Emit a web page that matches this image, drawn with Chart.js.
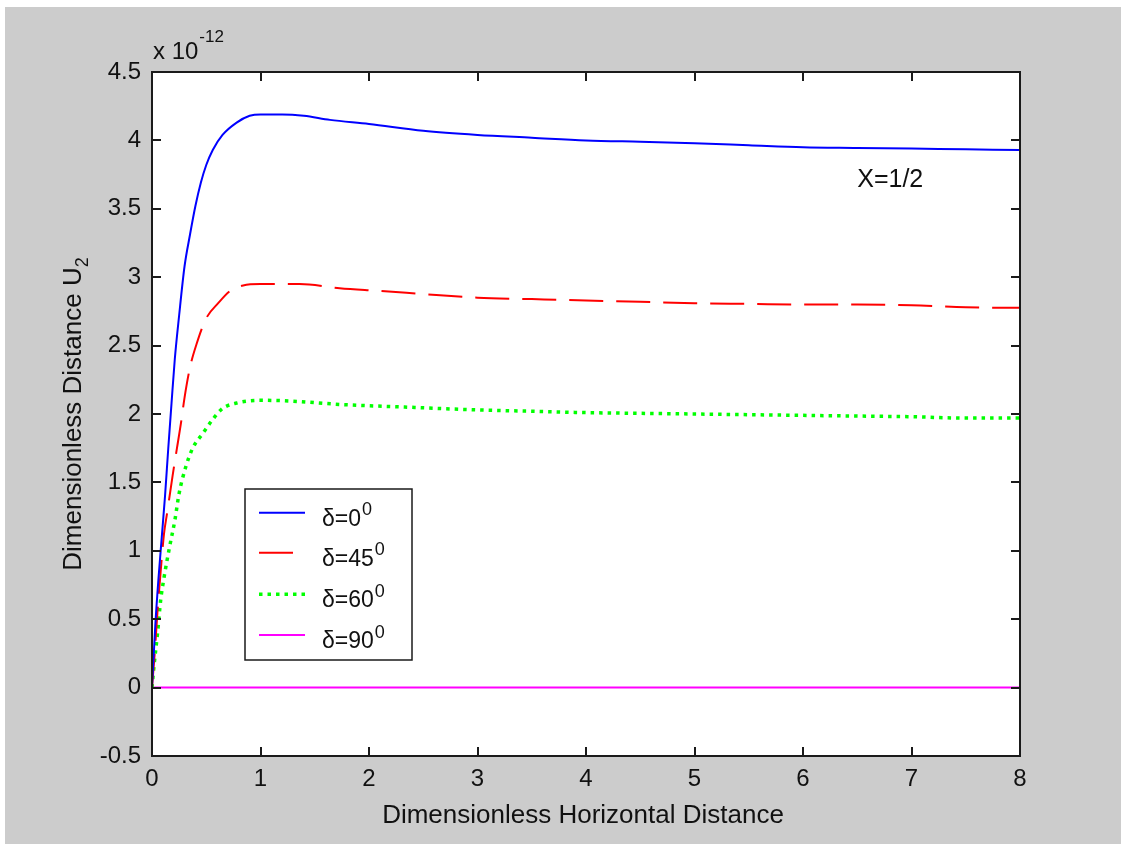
<!DOCTYPE html>
<html>
<head>
<meta charset="utf-8">
<script src="https://cdn.jsdelivr.net/npm/chart.js@4"></script>
<style>
html,body{margin:0;padding:0;background:#fff;}
canvas{display:block;}
</style>
</head>
<body>
<canvas id="c" width="1121" height="844"></canvas>
<script>
// ---- data (values in units of 1e-12) ----
const seriesLabels = ["δ=0", "δ=45", "δ=60", "δ=90"];
const blueX = [0, 0.03, 0.06, 0.09, 0.12, 0.15, 0.18, 0.21, 0.25, 0.30, 0.35, 0.40, 0.45, 0.50, 0.56, 0.65, 0.78, 0.90, 1.0, 1.2, 1.4, 1.64, 2.0, 2.5, 3.0, 3.5, 4.0, 4.5, 5.0, 5.5, 6.0, 6.5, 7.0, 7.5, 8.0];
const blueY = [0, 0.45, 0.80, 1.10, 1.40, 1.75, 2.08, 2.40, 2.72, 3.08, 3.31, 3.52, 3.69, 3.82, 3.93, 4.04, 4.13, 4.18, 4.19, 4.19, 4.18, 4.15, 4.12, 4.07, 4.04, 4.02, 4.00, 3.99, 3.98, 3.965, 3.95, 3.945, 3.94, 3.935, 3.93];
const redX = [0, 0.025, 0.05, 0.08, 0.11, 0.14, 0.19, 0.23, 0.27, 0.30, 0.35, 0.41, 0.50, 0.61, 0.72, 0.84, 1.0, 1.36, 1.73, 2.1, 2.62, 3.0, 3.5, 4.0, 4.5, 5.0, 5.5, 6.0, 6.5, 7.0, 7.5, 8.0];
const redY = [0, 0.25, 0.55, 0.85, 1.12, 1.28, 1.55, 1.75, 1.95, 2.12, 2.34, 2.51, 2.70, 2.81, 2.90, 2.94, 2.95, 2.95, 2.92, 2.90, 2.87, 2.85, 2.84, 2.83, 2.82, 2.81, 2.805, 2.80, 2.80, 2.795, 2.78, 2.776];
const greenX = [0, 0.02, 0.05, 0.08, 0.11, 0.16, 0.21, 0.25, 0.31, 0.375, 0.47, 0.56, 0.65, 0.78, 1.0, 1.27, 1.73, 2.35, 3.0, 3.5, 4.0, 4.5, 5.0, 5.5, 6.0, 6.5, 7.0, 7.5, 8.0];
const greenY = [0, 0.17, 0.39, 0.64, 0.80, 1.02, 1.22, 1.42, 1.61, 1.75, 1.86, 1.96, 2.04, 2.08, 2.10, 2.095, 2.07, 2.05, 2.03, 2.02, 2.01, 2.005, 2.00, 1.995, 1.99, 1.985, 1.98, 1.97, 1.97];
const magentaX = [0, 8];
const magentaY = [0, 0];
const xTickLabels = ["0", "1", "2", "3", "4", "5", "6", "7", "8"];
const yTickLabels = ["-0.5", "0", "0.5", "1", "1.5", "2", "2.5", "3", "3.5", "4", "4.5"];

function pts(xs, ys) { return xs.map((x, i) => ({x: x, y: ys[i]})); }

const FONT = "'Liberation Sans', Arial, sans-serif";
const PLOT = {left: 152, right: 1020, top: 72, bottom: 756};

const datasets = [
  {label: seriesLabels[0], data: pts(blueX, blueY), borderColor: "#0000ff", borderWidth: 2, borderDash: []},
  {label: seriesLabels[1], data: pts(redX, redY), borderColor: "#ff0000", borderWidth: 2, borderDash: [34, 13]},
  {label: seriesLabels[2], data: pts(greenX, greenY), borderColor: "#00ff00", borderWidth: 3.5, borderDash: [3.5, 5]},
  {label: seriesLabels[3], data: pts(magentaX, magentaY), borderColor: "#ff00ff", borderWidth: 2, borderDash: []}
].map(d => Object.assign(d, {showLine: true, pointRadius: 0, cubicInterpolationMode: "monotone", fill: false}));

const bgPlugin = {
  id: "bg",
  beforeDraw(chart) {
    const ctx = chart.ctx;
    ctx.save();
    ctx.fillStyle = "#ffffff";
    ctx.fillRect(0, 0, chart.width, chart.height);
    ctx.fillStyle = "#cccccc";
    ctx.fillRect(5, 7, chart.width - 5, chart.height - 7);
    const a = chart.chartArea;
    ctx.fillStyle = "#ffffff";
    ctx.fillRect(a.left, a.top, a.right - a.left, a.bottom - a.top);
    ctx.restore();
  }
};

const decoPlugin = {
  id: "deco",
  afterDraw(chart) {
    const ctx = chart.ctx;
    const a = chart.chartArea;
    const xs = chart.scales.x, ys = chart.scales.y;
    ctx.save();
    // box
    ctx.strokeStyle = "#1a1a1a";
    ctx.lineWidth = 2;
    ctx.strokeRect(a.left, a.top, a.right - a.left, a.bottom - a.top);
    // inside ticks on all four sides
    const tl = 9;
    ctx.lineWidth = 2;
    ctx.beginPath();
    xs.ticks.forEach(t => {
      const px = Math.round(xs.getPixelForValue(t.value));
      ctx.moveTo(px, a.bottom); ctx.lineTo(px, a.bottom - tl);
      ctx.moveTo(px, a.top); ctx.lineTo(px, a.top + tl);
    });
    ys.ticks.forEach(t => {
      const py = Math.round(ys.getPixelForValue(t.value));
      ctx.moveTo(a.left, py); ctx.lineTo(a.left + tl, py);
      ctx.moveTo(a.right, py); ctx.lineTo(a.right - tl, py);
    });
    ctx.stroke();

    ctx.fillStyle = "#111";
    // exponent label
    ctx.textAlign = "left";
    ctx.textBaseline = "alphabetic";
    ctx.font = "24px " + FONT;
    ctx.fillText("x 10", 153, 59);
    const w10 = ctx.measureText("x 10").width;
    ctx.font = "17px " + FONT;
    ctx.fillText("-12", 153 + w10 + 1, 42);

    // x title
    ctx.font = "26px " + FONT;
    ctx.textAlign = "center";
    ctx.fillText("Dimensionless Horizontal Distance", (a.left + a.right) / 2 - 3, 823);

    // y title with subscript
    const main = "Dimensionless Distance U", sub = "2";
    ctx.font = "26px " + FONT;
    const wMain = ctx.measureText(main).width;
    ctx.font = "18px " + FONT;
    const wSub = ctx.measureText(sub).width;
    const total = wMain + wSub;
    ctx.save();
    ctx.translate(81, (a.top + a.bottom) / 2);
    ctx.rotate(-Math.PI / 2);
    ctx.textAlign = "left";
    ctx.font = "26px " + FONT;
    ctx.fillText(main, -total / 2, 0);
    ctx.font = "18px " + FONT;
    ctx.fillText(sub, -total / 2 + wMain, 7);
    ctx.restore();

    // annotation
    ctx.font = "25px " + FONT;
    ctx.textAlign = "left";
    ctx.fillText("X=1/2", xs.getPixelForValue(6.5), ys.getPixelForValue(3.66));

    // legend
    const L = {x: 245, y: 489, w: 167, h: 171};
    ctx.fillStyle = "#ffffff";
    ctx.fillRect(L.x, L.y, L.w, L.h);
    ctx.strokeStyle = "#1a1a1a";
    ctx.lineWidth = 1.5;
    ctx.strokeRect(L.x, L.y, L.w, L.h);
    const rows = [512.7, 552.7, 594.3, 635];
    const sups = ["0", "0", "0", "0"];
    chart.data.datasets.forEach((d, i) => {
      const y = rows[i];
      ctx.save();
      ctx.strokeStyle = d.borderColor;
      ctx.lineWidth = d.borderWidth;
      ctx.setLineDash(d.borderDash || []);
      ctx.beginPath();
      ctx.moveTo(259, y); ctx.lineTo(305, y);
      ctx.stroke();
      ctx.restore();
      ctx.fillStyle = "#111";
      ctx.textAlign = "left";
      ctx.font = "23px " + FONT;
      ctx.fillText(d.label, 322, y + 13);
      const w = ctx.measureText(d.label).width;
      ctx.font = "18px " + FONT;
      ctx.fillText(sups[i], 322 + w + 1, y + 2.5);
    });
    ctx.restore();
  }
};

new Chart(document.getElementById("c"), {
  type: "scatter",
  data: {datasets: datasets},
  options: {
    responsive: false,
    animation: false,
    devicePixelRatio: 1,
    layout: {padding: {left: 0, top: PLOT.top, right: 1121 - PLOT.right, bottom: 0}},
    plugins: {legend: {display: false}, tooltip: {enabled: false}},
    scales: {
      x: {
        type: "linear", min: 0, max: 8,
        afterFit(s) { s.height = 844 - PLOT.bottom; },
        grid: {display: false, drawTicks: false},
        border: {display: false},
        ticks: {stepSize: 1, padding: 9, color: "#111", font: {family: FONT, size: 24},
          callback: (v) => xTickLabels[Math.round(v)]}
      },
      y: {
        type: "linear", min: -0.5, max: 4.5,
        afterFit(s) { s.width = PLOT.left; },
        grid: {display: false, drawTicks: false},
        border: {display: false},
        ticks: {stepSize: 0.5, padding: 11, color: "#111", font: {family: FONT, size: 24},
          callback: (v) => yTickLabels[Math.round((v + 0.5) * 2)]}
      }
    }
  },
  plugins: [bgPlugin, decoPlugin]
});
</script>
</body>
</html>
